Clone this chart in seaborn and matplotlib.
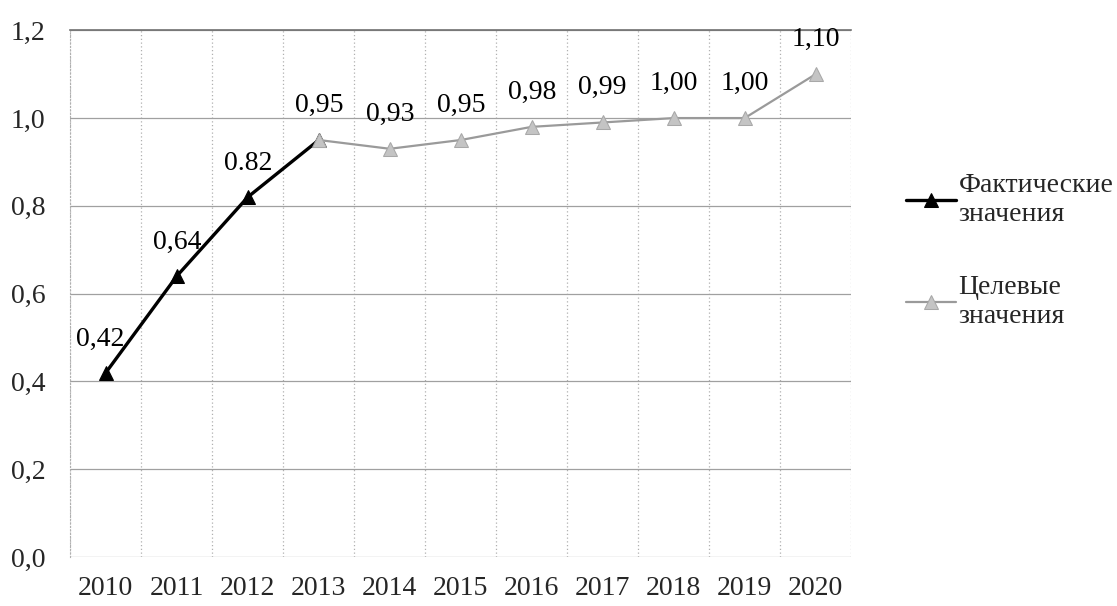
import matplotlib
matplotlib.use("Agg")
import matplotlib.pyplot as plt
import seaborn as sns
import pandas as pd
from matplotlib.ticker import FuncFormatter, MultipleLocator

# Years on the category axis
years = ["2010", "2011", "2012", "2013", "2014", "2015", "2016", "2017", "2018", "2019", "2020"]

# Actual values (2010-2013)
actual_years = ["2010", "2011", "2012", "2013"]
actual_values = [0.42, 0.64, 0.82, 0.95]
actual_labels = ["0,42", "0,64", "0.82", None]

# Target values (2013-2020)
target_years = ["2013", "2014", "2015", "2016", "2017", "2018", "2019", "2020"]
target_values = [0.95, 0.93, 0.95, 0.98, 0.99, 1.00, 1.00, 1.10]
target_labels = ["0,95", "0,93", "0,95", "0,98", "0,99", "1,00", "1,00", "1,10"]

series_actual = "Фактические\nзначения"
series_target = "Целевые\nзначения"

sns.set_style("white")
plt.rcParams["font.family"] = ["Liberation Serif", "DejaVu Serif"]
FS = 20

pos = {y: i for i, y in enumerate(years)}
df = pd.concat([
    pd.DataFrame({"x": [pos[y] for y in actual_years], "value": actual_values, "series": series_actual}),
    pd.DataFrame({"x": [pos[y] for y in target_years], "value": target_values, "series": series_target}),
], ignore_index=True)

fig = plt.figure(figsize=(11.17, 6.06), dpi=100)
ax = fig.add_axes([0.063, 0.081, 0.699, 0.869])

sns.lineplot(data=df[df.series == series_actual], x="x", y="value", ax=ax,
             color="black", linewidth=2.4, marker="^", markersize=10,
             markeredgecolor="black", label=series_actual, zorder=3)
sns.lineplot(data=df[df.series == series_target], x="x", y="value", ax=ax,
             color="#9a9a9a", linewidth=1.6, marker="^", markersize=10,
             markerfacecolor="#c4c4c4", markeredgecolor="#a8a8a8",
             label=series_target, zorder=4)

# Value labels above the points
for y, v, t in zip(actual_years, actual_values, actual_labels):
    if t:
        dx = -4 if y == "2010" else 0
        ax.annotate(t, (pos[y], v), xytext=(dx, 24), textcoords="offset points",
                    ha="center", va="center", fontsize=FS, color="black")
for y, v, t in zip(target_years, target_values, target_labels):
    ax.annotate(t, (pos[y], v), xytext=(0, 25), textcoords="offset points",
                ha="center", va="center", fontsize=FS, color="black")

ax.set_xlim(-0.5, len(years) - 0.5)
ax.set_ylim(0, 1.2)
ax.set_xticks(range(len(years)))
ax.set_xticklabels(years)
ax.yaxis.set_major_locator(MultipleLocator(0.2))
ax.yaxis.set_major_formatter(FuncFormatter(lambda v, _: f"{v:.1f}".replace(".", ",")))

# Category boundary gridlines and value gridlines
ax.set_xticks([i + 0.5 for i in range(-1, len(years))], minor=True)
ax.grid(which="minor", axis="x", color="#b0b0b0", linestyle=(0, (1, 2)), linewidth=0.9)
ax.grid(which="major", axis="y", color="#a0a0a0", linestyle="-", linewidth=0.9)
ax.tick_params(axis="both", which="both", length=0, labelsize=FS)
ax.tick_params(axis="y", pad=18)
ax.tick_params(axis="x", pad=14)
ax.set_xlabel("")
ax.set_ylabel("")
for side in ["right", "bottom"]:
    ax.spines[side].set_visible(False)
ax.spines["top"].set_color("#707070")
ax.spines["top"].set_linewidth(1.2)
ax.spines["left"].set_color("#b0b0b0")
ax.spines["left"].set_linestyle((0, (1, 2)))

ax.legend_.remove()
handles, labels = ax.get_legend_handles_labels()
fig.legend(handles, labels, loc="upper left", bbox_to_anchor=(0.801, 0.733),
           frameon=False, fontsize=FS, handlelength=1.8, handletextpad=0.1,
           labelspacing=1.75, borderaxespad=0)

fig.savefig("out.png", dpi=100)
